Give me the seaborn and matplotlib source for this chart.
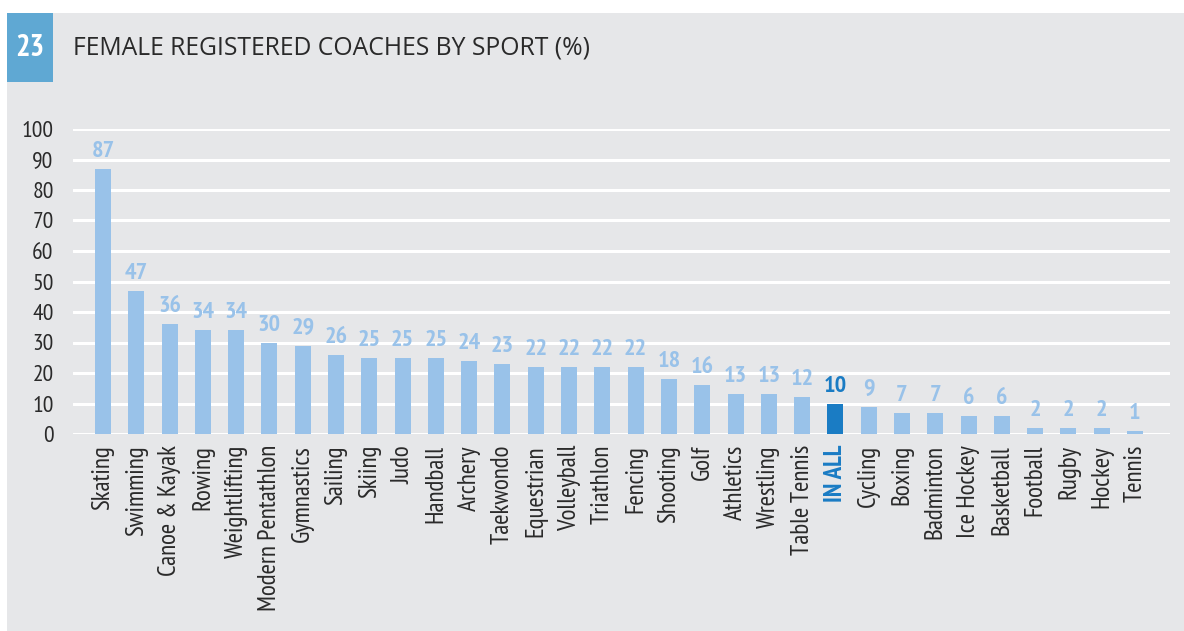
import matplotlib
matplotlib.use("Agg")
import matplotlib.pyplot as plt
import matplotlib.patches as mpatches
import seaborn as sns
import pandas as pd

sports = ["Skating", "Swimming", "Canoe & Kayak", "Rowing", "Weightlifting",
          "Modern Pentathlon", "Gymnastics", "Sailing", "Skiing", "Judo",
          "Handball", "Archery", "Taekwondo", "Equestrian", "Volleyball",
          "Triathlon", "Fencing", "Shooting", "Golf", "Athletics", "Wrestling",
          "Table Tennis", "IN ALL", "Cycling", "Boxing", "Badminton",
          "Ice Hockey", "Basketball", "Football", "Rugby", "Hockey", "Tennis"]
values = [87, 47, 36, 34, 34, 30, 29, 26, 25, 25, 25, 24, 23, 22, 22, 22, 22,
          18, 16, 13, 13, 12, 10, 9, 7, 7, 6, 6, 2, 2, 2, 1]
yticks = [0, 10, 20, 30, 40, 50, 60, 70, 80, 90, 100]
highlight = "IN ALL"

light = "#99c2e9"
dark = "#1a7cc4"
bg = "#e6e7e9"
narrow = "PT Sans Narrow"

sns.set_theme(style="white")
plt.rcParams['font.family'] = [narrow, 'DejaVu Sans']

df = pd.DataFrame({"sport": sports, "value": values})
palette = {s: (dark if s == highlight else light) for s in sports}

fig = plt.figure(figsize=(11.84, 6.31), dpi=100)
fig.patch.set_facecolor("white")
fig.add_artist(mpatches.Rectangle((7 / 1184, 0), 1 - 7 / 1184, 1 - 13 / 631,
                                  transform=fig.transFigure, facecolor=bg,
                                  edgecolor="none", zorder=0))
fig.add_artist(mpatches.Rectangle((7 / 1184, 1 - 82 / 631), 46 / 1184, 69 / 631,
                                  transform=fig.transFigure, facecolor="#5fa8d3",
                                  edgecolor="none", zorder=1))
fig.text(30 / 1184, 1 - 48 / 631, "23", color="white", fontsize=22,
         fontweight="bold", ha="center", va="center")
fig.text(73 / 1184, 1 - 48 / 631, "FEMALE REGISTERED COACHES BY SPORT (%)",
         color="#2a2a2a", fontsize=17.8, ha="left", va="center",
         family=["Open Sans", "DejaVu Sans"])

ax = fig.add_axes([73 / 1184, 1 - 434 / 631, (1170 - 73) / 1184, (434 - 129) / 631])
ax.set_facecolor("none")
n = len(sports)
step = (1135 - 103) / (n - 1)
sns.barplot(data=df, x="sport", y="value", hue="sport", palette=palette,
            legend=False, width=16 / step, ax=ax, zorder=3, saturation=1,
            linewidth=0)
ax.set_xlim(-(103 - 73) / step, n - 1 + (1170 - 1135) / step)
ax.set_ylim(0, 100)
ax.set_yticks(yticks)
for y in yticks:
    ax.axhline(y, color="white", lw=2.2, zorder=1)
for s in ax.spines.values():
    s.set_visible(False)
ax.tick_params(axis="both", length=0)
ax.tick_params(axis="y", pad=14, labelsize=17, labelcolor="#2a2a2a")
ax.tick_params(axis="x", pad=8, labelsize=18, labelcolor="#2a2a2a")
ax.set_xlabel("")
ax.set_ylabel("")
ax.set_xticks(range(n))
ax.set_xticklabels(sports, rotation=90, ha="center", va="top")
for lab in ax.get_xticklabels():
    if lab.get_text() == highlight:
        lab.set_color(dark)
        lab.set_fontweight("bold")
for i, (s, v) in enumerate(zip(sports, values)):
    c = dark if s == highlight else light
    ax.annotate(str(v), (i, v), xytext=(0, 5), textcoords="offset points",
                ha="center", va="bottom", color=c, fontsize=17.5,
                fontweight="bold")

fig.savefig("out.png", dpi=100, facecolor=fig.get_facecolor())
